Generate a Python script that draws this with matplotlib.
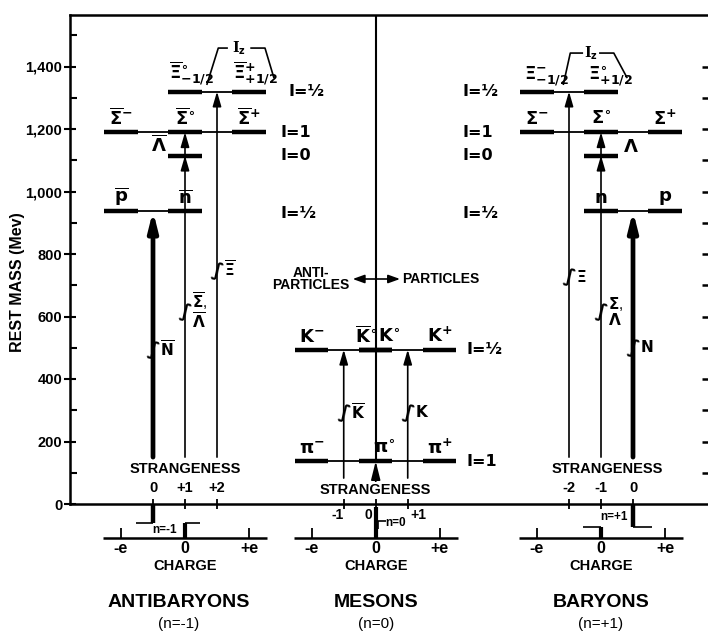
import matplotlib
matplotlib.use('Agg')
import matplotlib.pyplot as plt

plt.rcParams['font.family'] = ['Liberation Sans', 'DejaVu Sans']
plt.rcParams['mathtext.fontset'] = 'dejavusans'
plt.rcParams['mathtext.default'] = 'bf'

# ------------------------------------------------------------------ data
group_titles = ['ANTIBARYONS', 'MESONS', 'BARYONS']
group_n_labels = ['(n=-1)', '(n=0)', '(n=+1)']
group_n = [-1, 0, 1]

# antibaryons (n = -1)
ab_masses = [938, 1115, 1190, 1320]
ab_charges = [[-1, 0], [0], [-1, 0, 1], [0, 1]]
ab_names = [[r'$\overline{p}$', r'$\overline{n}$'],
            [r'$\overline{\Lambda}$'],
            [r'$\overline{\Sigma}^{-}$', r'$\overline{\Sigma}^{\circ}$', r'$\overline{\Sigma}^{+}$'],
            [r'$\overline{\Xi}^{\circ}_{-1/2}$', r'$\overline{\Xi}^{+}_{+1/2}$']]
ab_isospin = ['I=½', 'I=0', 'I=1', 'I=½']
ab_strangeness = [0, 1, 2]
ab_strangeness_labels = ['0', '+1', '+2']
ab_family_labels = [r'$\overline{N}$', r'$\overline{\Sigma}$,' + '\n' + r'$\overline{\Lambda}$', r'$\overline{\Xi}$']
ab_family_masses = [[938], [1115, 1190], [1320]]

# mesons (n = 0)
me_masses = [137, 494]
me_charges = [[-1, 0, 1], [-1, 0, 0, 1]]
me_names = [[r'$\pi^{-}$', r'$\pi^{\circ}$', r'$\pi^{+}$'],
            [r'$K^{-}$', r'$\overline{K}^{\circ}$', r'$K^{\circ}$', r'$K^{+}$']]
me_isospin = ['I=1', 'I=½']
me_strangeness = [-1, 0, 1]
me_strangeness_labels = ['-1', '0', '+1']
me_family_labels = [r'$\overline{K}$', '', r'$K$']
me_family_masses = [[494], [137], [494]]

# baryons (n = +1)
b_masses = [938, 1115, 1190, 1320]
b_charges = [[0, 1], [0], [-1, 0, 1], [-1, 0]]
b_names = [[r'$n$', r'$p$'],
           [r'$\Lambda$'],
           [r'$\Sigma^{-}$', r'$\Sigma^{\circ}$', r'$\Sigma^{+}$'],
           [r'$\Xi^{-}_{-1/2}$', r'$\Xi^{\circ}_{+1/2}$']]
b_isospin = ['I=½', 'I=0', 'I=1', 'I=½']
b_strangeness = [-2, -1, 0]
b_strangeness_labels = ['-2', '-1', '0']
b_family_labels = [r'$\Xi$', r'$\Sigma$,' + '\n' + r'$\Lambda$', r'$N$']
b_family_masses = [[1320], [1115, 1190], [938]]

y_major = [0, 200, 400, 600, 800, 1000, 1200, 1400]
y_major_labels = ['0', '200', '400', '600', '800', '1,000', '1,200', '1,400']
y_minor = [100, 300, 500, 700, 900, 1100, 1300, 1500]
y_right = list(range(100, 1500, 100))

charge_ticks = [-1, 0, 1]
charge_tick_labels = ['-e', '0', '+e']

# ------------------------------------------------------------------ layout
W, H = 708, 634
PX = 64.0          # pixels per charge unit
MPX = 0.3125       # pixels per MeV
axL, axR, axT, axB = 70, 709, 15, 504
x_org = 185
group_x0 = [0.0, 2.98, 6.5]

fig = plt.figure(figsize=(W / 100, H / 100), dpi=100)
ax = fig.add_axes([axL / W, 1 - axB / H, (axR - axL) / W, (axB - axT) / H])
ax.set_xlim((axL - x_org) / PX, (axR - x_org) / PX)
ax.set_ylim(0, (axB - axT) / MPX)

for s in ['left', 'bottom', 'top']:
    ax.spines[s].set_linewidth(1.8)
ax.spines['right'].set_visible(False)
ax.set_xticks([])
ax.set_yticks(y_major)
ax.set_yticklabels(y_major_labels, fontsize=10.5, fontweight='bold')
ax.set_yticks(y_minor, minor=True)
ax.tick_params(axis='y', which='major', direction='inout', length=9, width=1.5, pad=1)
ax.tick_params(axis='y', which='minor', direction='in', length=5, width=1.5)

axr = ax.twinx()
axr.set_ylim(ax.get_ylim())
axr.set_yticks(y_right)
axr.set_yticklabels([])
axr.tick_params(axis='y', direction='in', length=5, width=1.8)
for s in axr.spines.values():
    s.set_visible(False)

ax.set_ylabel('REST MASS (Mev)', fontsize=11.5, fontweight='bold')
ax.yaxis.set_label_coords(-0.07, 0.454)

K = 'k'
HW = 0.26


def X(g, q):
    return group_x0[g] + q


def line(x, y, lw=1.3, **kw):
    ax.plot(x, y, color=K, lw=lw, clip_on=False, solid_capstyle='butt', **kw)


def arrow(x, y0, y1, lw, thick=False):
    if thick:
        style, ms = '-|>,head_length=0.8,head_width=0.2', 14
    else:
        style, ms = '-|>,head_length=0.55,head_width=0.16', 16
    ax.annotate('', xy=(x, y1), xytext=(x, y0),
                arrowprops=dict(arrowstyle=style, lw=lw, color=K, shrinkA=0, shrinkB=0,
                                mutation_scale=ms))


groups = [
    (ab_masses, ab_charges, ab_names, ab_isospin, ab_strangeness, ab_strangeness_labels,
     ab_family_labels, ab_family_masses),
    (me_masses, me_charges, me_names, me_isospin, me_strangeness, me_strangeness_labels,
     me_family_labels, me_family_masses),
    (b_masses, b_charges, b_names, b_isospin, b_strangeness, b_strangeness_labels,
     b_family_labels, b_family_masses),
]

iso_x = [1.5, 1.42, -2.16]
break_y = [[493, 615, 746], [291, None, 291], [726, 614, 499]]
arrow_start = [150, 83, 150]

for g, (masses, charges, names, iso, strs, slabels, flabels, fmasses) in enumerate(groups):
    n = group_n[g]
    # energy levels
    for m, qs, nm, il in zip(masses, charges, names, iso):
        qmin, qmax = min(qs), max(qs)
        line([X(g, qmin) - HW, X(g, qmax) + HW], [m, m], lw=1.3)
        for i, (q, lab) in enumerate(zip(qs, nm)):
            line([X(g, q) - HW, X(g, q) + HW], [m, m], lw=3.2)
            ha, dx, dy, va = 'center', 0.0, 12, 'bottom'
            fs = 13
            if 'Lambda' in lab and len(qs) == 1:
                if g == 0:
                    ha, dx, dy, va = 'right', -HW - 0.03, 35, 'center'
                else:
                    ha, dx, dy, va = 'left', HW + 0.08, 25, 'center'
            if 'Xi' in lab:
                ha, dx = 'left', (-0.25 if g == 0 else -0.2)
            if g == 1 and len(qs) == 4 and q == 0:
                if i == 1:
                    ha, dx = 'right', 0.02
                else:
                    ha, dx = 'left', 0.03
            if g == 1 and m < 300 and q == 0:
                dx = 0.14
            ax.text(X(g, q) + dx, m + dy, lab, ha=ha, va=va, fontsize=fs)
        iy = m - 8 if m < 1000 and g != 1 else m
        ixo = 0.12 if (g == 0 and m > 1300) else 0.0
        ax.text(X(g, 0) + iso_x[g] + ixo, iy, il, ha='left', va='center',
                fontsize=11.5, fontweight='bold', family='DejaVu Sans')

    # strangeness arrows
    for k, (S, fl, fm) in enumerate(zip(strs, flabels, fmasses)):
        xa = X(g, (n + S) / 2)
        thick = (S == 0 and g != 1)
        lw = 3.4 if thick else 1.2
        if g == 1 and S == 0:
            arrow(xa, 60, fm[0], 1.2, thick=True)
        else:
            arrow(xa, arrow_start[g], max(fm), lw, thick=thick)
            for mm in fm:
                if mm != max(fm):
                    arrow(xa, mm - 40, mm, lw, thick=thick)
        by = break_y[g][k]
        if by is not None:
            ax.text(xa, by, '∫', ha='center', va='center', fontsize=14,
                    fontweight='bold', family='DejaVu Sans', rotation=-10)
            ax.text(xa + 0.11, by + 2, fl, ha='left', va='center', fontsize=11,
                    linespacing=0.95)
        # tick on the zero line
        line([xa, xa], [-16, 16], lw=1.3)
        # strangeness value labels
        if g == 1:
            dxs = {-1: -0.1, 0: -0.11, 1: 0.17}[S]
            ax.text(xa + dxs, -35, slabels[k], ha='center', va='center',
                    fontsize=10, fontweight='bold')
        else:
            ax.text(xa, 51, slabels[k], ha='center', va='center',
                    fontsize=10.5, fontweight='bold')

    # strangeness title
    if g == 1:
        ax.text(X(g, 0), 45, 'STRANGENESS', ha='center', va='center', fontsize=10.5,
                fontweight='bold', bbox=dict(facecolor='white', edgecolor='none', pad=0.5))
    else:
        ax.text(X(g, 0) + (0.1 if g == 2 else 0), 112, 'STRANGENESS', ha='center',
                va='center', fontsize=10.5, fontweight='bold')

    # charge axis
    cy = -109
    line([X(g, -1.28), X(g, 1.28)], [cy, cy], lw=1.8)
    for q, ql in zip(charge_ticks, charge_tick_labels):
        line([X(g, q), X(g, q)], [cy, cy + 33], lw=1.3)
        ax.text(X(g, q), cy - 32, ql, ha='center', va='center', fontsize=11.5,
                fontweight='bold')
    ax.text(X(g, 0), cy - 88, 'CHARGE', ha='center', va='center', fontsize=10.5,
            fontweight='bold')
    ax.text(X(g, 0) - (0.1 if g == 0 else 0), -314, group_titles[g], ha='center',
            va='center', fontsize=14, fontweight='bold')
    ax.text(X(g, 0) - (0.1 if g == 0 else 0), -385, group_n_labels[g], ha='center',
            va='center', fontsize=11)

# n brackets
xs0 = X(0, -0.5)
line([xs0, xs0], [0, -61], lw=3.2)
line([xs0 - 0.27, xs0], [-61, -61], lw=1.2)
line([X(0, 0), X(0, 0)], [-61, -109], lw=3.0)
line([X(0, 0), X(0, 0.24)], [-61, -61], lw=1.2)
ax.text(X(0, -0.32), -84, 'n=-1', ha='center', va='center', fontsize=8.5, fontweight='bold')

line([X(1, 0), X(1, 0)], [-8, -109], lw=3.0)
line([X(1, 0.03), X(1, 0.16)], [-55, -55], lw=1.2)
line([X(1, 0.03), X(1, 0.03)], [-55, -80], lw=1.2)
ax.text(X(1, 0.31), -62, 'n=0', ha='center', va='center', fontsize=8.5, fontweight='bold')

xs2 = X(2, 0.5)
line([xs2, xs2], [0, -75], lw=3.2)
line([xs2, xs2 + 0.3], [-75, -75], lw=1.2)
line([X(2, 0), X(2, 0)], [-72, -109], lw=3.0)
line([X(2, -0.28), X(2, 0)], [-72, -72], lw=1.2)
ax.text(X(2, 0.2), -42, 'n=+1', ha='center', va='center', fontsize=8.5, fontweight='bold')

# antiparticle / particle divider
line([X(1, 0), X(1, 0)], [me_masses[0], ax.get_ylim()[1]], lw=1.5)
ax.text(X(1, -1.02), 720, 'ANTI-\nPARTICLES', ha='center', va='center', fontsize=10,
        fontweight='bold', linespacing=0.9)
ax.annotate('', xy=(X(1, 0.38), 720), xytext=(X(1, -0.36), 720),
            arrowprops=dict(arrowstyle='<|-|>,head_length=0.5,head_width=0.18', lw=1.2,
                            color=K, shrinkA=0, shrinkB=0, mutation_scale=14))
ax.text(X(1, 0.41), 720, 'PARTICLES', ha='left', va='center', fontsize=10,
        fontweight='bold')

# I_z brackets
xi_a = ab_masses[3]
line([X(0, 0.34), X(0, 0.52), X(0, 0.67)], [xi_a + 21, xi_a + 139, xi_a + 139], lw=1.2)
line([X(0, 1.02), X(0, 1.25), X(0, 1.39)], [xi_a + 139, xi_a + 139, xi_a + 43], lw=1.2)
ax.text(X(0, 0.84), xi_a + 139, 'I$_z$', ha='center', va='center', fontsize=10,
        fontweight='bold', family='DejaVu Serif')
xi_b = b_masses[3]
line([X(2, -0.59), X(2, -0.48), X(2, -0.28)], [xi_b + 21, xi_b + 123, xi_b + 123], lw=1.2)
line([X(2, -0.03), X(2, 0.2), X(2, 0.41)], [xi_b + 123, xi_b + 123, xi_b + 43], lw=1.2)
ax.text(X(2, -0.155), xi_b + 123, 'I$_z$', ha='center', va='center', fontsize=10,
        fontweight='bold', family='DejaVu Serif')

fig.savefig('out.png', dpi=100)
